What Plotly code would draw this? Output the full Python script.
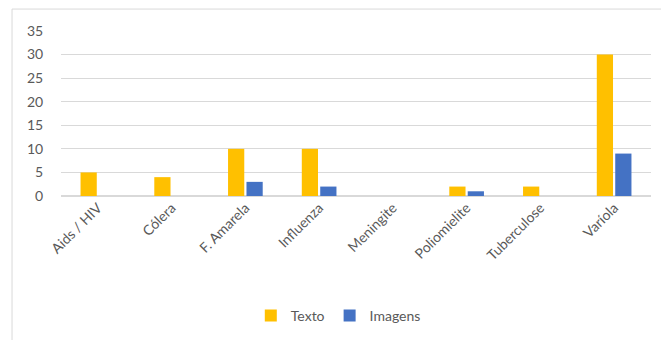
import plotly.graph_objects as go

categories = ["Aids / HIV", "Cólera", "F. Amarela", "Influenza", "Meningite",
              "Poliomielite", "Tuberculose", "Varíola"]
texto = [5, 4, 10, 10, 0, 2, 2, 30]
imagens = [0, 0, 3, 2, 0, 1, 0, 9]

font = dict(family="Lato, Open Sans, sans-serif", size=14, color="#595959")

fig = go.Figure()
fig.add_trace(go.Bar(name="Texto", x=categories, y=texto, marker_color="#FFC000",
                     marker_line_width=0))
fig.add_trace(go.Bar(name="Imagens", x=categories, y=imagens, marker_color="#4472C4",
                     marker_line_width=0))

fig.update_layout(
    width=661, height=340,
    margin=dict(l=61, r=10, t=31, b=143),
    paper_bgcolor="white", plot_bgcolor="white",
    barmode="group", bargap=0.5, bargroupgap=0.12,
    font=font,
    showlegend=True,
    legend=dict(orientation="h", x=0.47, xanchor="center", y=-0.717, yanchor="middle",
                font=dict(size=14, color="#595959"), itemwidth=30, traceorder="normal",
                tracegroupgap=0),
    shapes=[dict(type="rect", xref="paper", yref="paper",
                 x0=-0.083, x1=1.03, y0=-0.9, y1=1.133,
                 line=dict(color="#d9d9d9", width=1), fillcolor="rgba(0,0,0,0)", layer="below")],
)
fig.update_yaxes(range=[0, 35], dtick=5, showgrid=True, gridcolor="#d9d9d9", gridwidth=1,
                 zeroline=True, zerolinecolor="#d9d9d9", showline=False,
                 ticks="outside", ticklen=14, tickcolor="rgba(0,0,0,0)",
                 tickfont=dict(size=14, color="#595959"))
fig.update_xaxes(tickangle=-45, showline=False, showgrid=False, ticks="",
                 tickfont=dict(size=14, color="#595959"))

fig.write_html("out.html")
